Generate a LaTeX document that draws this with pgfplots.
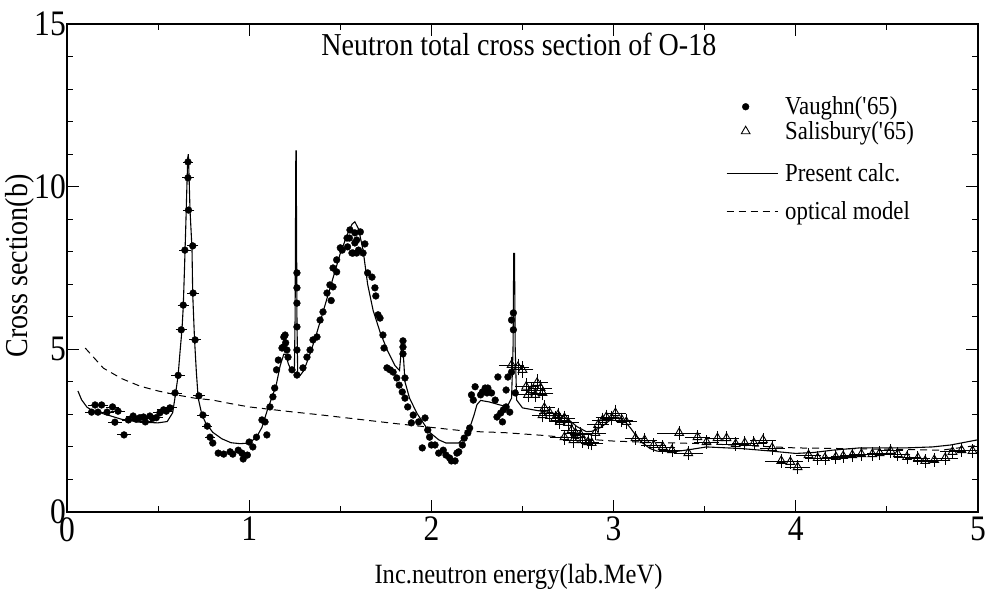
\documentclass[border=0pt]{standalone}
\usepackage{fontspec}
\setmainfont[FakeStretch=0.88]{Liberation Serif}
\usepackage{pgfplots}
\usepackage{pgfplotstable}
\pgfplotsset{compat=1.18}
\pgfplotsset{
  calcleg/.style={legend image code/.code={\draw[##1] (0bp,-9bp) -- (51bp,-9bp);}},
  optleg/.style={legend image code/.code={\draw[##1] (0bp,-7bp) -- (51bp,-7bp);}},
}

% Vaughn('65), low energies, with horizontal error bars
\pgfplotstableread{
x y ex
0.135 3.07 0.02
0.154 3.29 0.02
0.17 3.07 0.02
0.19 3.29 0.02
0.22 3.07 0.02
0.25 3.23 0.02
0.263 2.76 0.02
0.28 3.10 0.02
0.313 2.37 0.02
0.337 2.83 0.02
0.363 2.95 0.02
0.38 2.85 0.02
0.40 2.90 0.02
0.42 2.92 0.02
0.43 2.77 0.02
0.455 2.95 0.02
0.47 2.88 0.02
0.49 2.90 0.02
0.51 3.05 0.02
0.53 3.14 0.02
0.545 3.10 0.02
0.565 3.20 0.02
0.593 3.66 0.02
0.61 4.20 0.02
0.627 5.60 0.015
0.638 6.36 0.015
0.647 8.05 0.015
0.664 10.27 0.015
0.664 10.76 0.01
0.667 9.28 0.015
0.69 8.18 0.015
0.692 6.73 0.015
0.703 5.29 0.015
0.724 3.57 0.015
0.746 2.98 0.015
0.77 2.64 0.01
0.785 2.30 0.01
}\vaughnA

% Vaughn('65), higher energies
\pgfplotstableread{
x y
0.80 2.12
0.83 1.81
0.86 1.78
0.895 1.85
0.91 1.78
0.94 1.90
0.96 1.81
0.967 1.63
0.99 1.75
1.00 2.15
1.02 2.00
1.04 2.30
1.07 2.83
1.087 2.77
1.097 2.37
1.114 3.23
1.13 3.54
1.14 3.81
1.15 4.37
1.16 4.67
1.18 5.04
1.187 5.07
1.19 5.38
1.197 5.44
1.20 5.20
1.207 4.98
1.213 4.76
1.235 4.37
1.262 7.35
1.262 6.89
1.262 6.42
1.262 5.69
1.262 4.98
1.262 4.21
1.295 4.43
1.317 4.76
1.334 4.98
1.35 5.29
1.372 5.38
1.389 5.90
1.405 6.15
1.427 6.73
1.443 6.98
1.45 6.50
1.46 7.50
1.46 6.92
1.48 7.75
1.48 7.38
1.50 8.12
1.51 8.05
1.537 8.42
1.54 8.15
1.553 8.67
1.55 8.42
1.564 7.96
1.57 7.96
1.58 8.58
1.58 8.27
1.59 8.36
1.59 7.96
1.60 8.05
1.61 8.61
1.625 7.96
1.635 8.24
1.65 7.35
1.674 7.22
1.69 6.89
1.695 6.64
1.707 6.06
1.718 5.96
1.734 5.44
1.74 5.04
1.756 4.43
1.773 4.37
1.79 4.30
1.81 4.12
1.823 3.90
1.844 5.26
1.844 5.07
1.844 4.86
1.855 4.12
1.84 3.69
1.855 3.50
1.87 3.23
1.90 2.98
1.89 2.74
1.93 2.77
1.965 2.89
1.98 2.52
1.99 2.30
1.95 1.97
2.00 2.06
2.02 2.06
2.04 1.81
2.065 1.90
2.08 1.75
2.10 1.66
2.11 1.57
2.13 1.57
2.14 1.81
2.15 1.85
2.17 2.06
2.18 2.27
2.20 2.43
2.21 2.58
2.22 3.60
2.23 3.44
2.24 3.85
2.27 3.60
2.28 3.69
2.295 3.81
2.305 3.66
2.31 3.81
2.33 3.66
2.35 3.44
2.365 4.15
2.36 2.92
2.39 2.77
2.38 3.04
2.395 3.14
2.41 3.23
2.41 3.75
2.43 3.07
2.42 4.15
2.44 4.30
2.45 5.60
2.44 5.90
2.45 6.12
2.46 3.66
}\vaughnB

% Salisbury('65)
\pgfplotstableread{
x y ex ey
2.44 4.52 0.05 0.15
2.475 4.46 0.04 0.15
2.50 4.37 0.04 0.15
2.52 3.85 0.04 0.15
2.53 3.60 0.04 0.12
2.55 3.75 0.04 0.12
2.57 3.60 0.04 0.12
2.58 3.97 0.04 0.15
2.60 3.81 0.04 0.15
2.61 3.66 0.04 0.12
2.62 3.20 0.04 0.12
2.61 2.98 0.04 0.12
2.65 3.04 0.04 0.12
2.68 2.89 0.04 0.12
2.695 2.98 0.04 0.12
2.705 2.77 0.04 0.12
2.73 2.89 0.04 0.12
2.75 2.74 0.04 0.12
2.77 2.52 0.04 0.12
2.79 2.43 0.04 0.12
2.73 2.30 0.06 0.12
2.78 2.21 0.04 0.12
2.82 2.37 0.04 0.12
2.83 2.21 0.04 0.12
2.86 2.15 0.04 0.12
2.88 2.12 0.04 0.12
2.90 2.43 0.04 0.12
2.915 2.68 0.04 0.12
2.94 2.83 0.04 0.12
2.96 2.92 0.04 0.12
2.99 2.89 0.04 0.12
3.01 3.04 0.04 0.15
3.045 2.83 0.04 0.12
3.07 2.77 0.04 0.12
3.12 2.27 0.04 0.10
3.17 2.21 0.05 0.10
3.22 2.06 0.05 0.10
3.27 2.00 0.05 0.10
3.32 1.90 0.05 0.10
3.36 2.43 0.10 0.10
3.41 1.81 0.06 0.10
3.46 2.30 0.05 0.10
3.51 2.15 0.05 0.10
3.57 2.27 0.05 0.10
3.62 2.27 0.05 0.10
3.67 2.09 0.05 0.10
3.72 2.12 0.05 0.10
3.77 2.12 0.05 0.10
3.82 2.21 0.05 0.10
3.87 1.97 0.05 0.10
3.92 1.57 0.07 0.10
3.97 1.54 0.05 0.10
4.01 1.38 0.05 0.10
4.07 1.75 0.05 0.10
4.12 1.66 0.05 0.10
4.16 1.66 0.05 0.10
4.22 1.69 0.05 0.10
4.26 1.72 0.05 0.10
4.31 1.75 0.05 0.10
4.36 1.78 0.05 0.10
4.42 1.78 0.05 0.10
4.46 1.81 0.05 0.10
4.52 1.88 0.05 0.10
4.56 1.78 0.05 0.10
4.61 1.69 0.05 0.10
4.67 1.66 0.05 0.10
4.71 1.57 0.05 0.10
4.76 1.60 0.05 0.10
4.82 1.66 0.05 0.10
4.86 1.85 0.05 0.10
4.91 1.90 0.05 0.10
4.97 1.88 0.05 0.10
}\salisbury

% present calculation
\pgfplotstableread{
x y
0.06 3.72
0.08 3.45
0.11 3.22
0.14 3.12
0.20 3.02
0.30 2.85
0.40 2.76
0.50 2.74
0.55 2.78
0.58 3.05
0.595 3.60
0.61 4.20
0.62 4.90
0.631 5.60
0.638 6.30
0.645 7.50
0.652 8.80
0.658 10.00
0.663 10.90
0.666 11.00
0.670 10.30
0.675 9.30
0.686 8.10
0.690 6.70
0.700 5.30
0.710 4.30
0.720 3.50
0.740 3.00
0.760 2.75
0.80 2.45
0.85 2.25
0.90 2.13
0.95 2.10
1.00 2.12
1.04 2.30
1.07 2.60
1.10 3.14
1.13 3.60
1.15 3.95
1.17 4.50
1.19 4.85
1.20 4.85
1.215 4.55
1.235 4.30
1.248 4.35
1.252 6.00
1.256 11.10
1.258 11.10
1.262 6.00
1.266 4.30
1.28 4.20
1.30 4.35
1.33 4.80
1.36 5.30
1.40 6.05
1.45 7.00
1.50 7.95
1.54 8.55
1.565 8.85
1.58 8.92
1.60 8.70
1.625 8.05
1.65 7.00
1.68 6.20
1.72 5.50
1.76 4.95
1.80 4.50
1.825 4.35
1.838 5.20
1.842 5.20
1.855 4.00
1.88 3.50
1.92 3.04
1.96 2.70
1.99 2.45
2.04 2.22
2.08 2.12
2.15 2.12
2.19 2.35
2.21 2.58
2.235 3.00
2.25 3.30
2.27 3.43
2.32 3.38
2.37 3.30
2.415 3.23
2.44 3.50
2.448 5.00
2.452 7.95
2.456 7.95
2.46 5.00
2.468 3.44
2.50 3.20
2.58 3.12
2.65 3.06
2.70 3.00
2.75 2.85
2.80 2.62
2.85 2.47
2.88 2.48
2.93 2.60
2.98 2.82
3.02 2.92
3.06 2.80
3.09 2.60
3.13 2.30
3.16 2.12
3.20 1.95
3.24 1.87
3.33 1.85
3.42 1.92
3.51 2.00
3.70 1.95
3.85 1.88
4.00 1.80
4.10 1.83
4.20 1.90
4.35 1.97
4.60 1.97
4.75 2.00
4.85 2.06
5.00 2.22
}\calc

% optical model
\pgfplotstableread{
x y
0.1 5.04
0.2 4.42
0.3 4.10
0.4 3.87
0.5 3.72
0.6 3.60
0.7 3.50
0.8 3.44
0.9 3.33
1.0 3.23
1.2 3.10
1.4 2.98
1.6 2.85
1.8 2.72
2.0 2.60
2.2 2.48
2.4 2.44
2.6 2.36
2.8 2.26
3.0 2.18
3.2 2.14
3.5 2.10
4.0 1.97
4.5 1.93
4.8 1.90
5.0 2.05
}\optical

\begin{document}
\begin{tikzpicture}
\begin{axis}[
scale only axis,width=911bp,height=488bp,
xmin=0,xmax=5,ymin=0,ymax=15,
xtick={0,1,2,3,4,5},ytick={0,5,10,15},
minor x tick num=1,minor y tick num=4,
tick align=inside,major tick length=12bp,minor tick length=6bp,
every tick/.style={black,line width=1bp},
axis line style={line width=1.5bp},
/pgf/number format/assume math mode=true,
ticklabel style={font=\fontsize{36}{36}\selectfont},
xticklabel style={inner sep=1bp,yshift=-4bp},
yticklabel style={inner sep=1bp},
xlabel={Inc.neutron energy(lab.MeV)},
ylabel={Cross section(b)},
xlabel style={font=\fontsize{28}{28}\selectfont,inner sep=1bp,at={(axis description cs:0.4956,-0.133)},anchor=center},
ylabel style={font=\fontsize{32}{32}\selectfont,inner sep=1bp,at={(axis description cs:-0.0516,0.504)},anchor=center,rotate=0},
legend style={draw=none,fill=none,at={(0.72,0.86)},anchor=north west,
  font=\fontsize{26}{28}\selectfont,row sep=0bp,nodes={inner ysep=2.5bp,inner xsep=7bp}},
legend cell align=left,
legend image code/.code={\draw[mark repeat=2,mark phase=2,#1] plot coordinates {(0bp,0bp) (19bp,0bp) (51bp,0bp)};},
]
\addplot[only marks,mark=*,mark size=3.4bp,black,
  error bars/.cd,x dir=both,x explicit,
  error mark options={black,mark size=3bp,line width=0.8bp},
  error bar style={line width=0.8bp}]
  table[x=x,y=y,x error=ex] {\vaughnA};
\addlegendentry{Vaughn(\textquotesingle65)}
\addplot[only marks,mark=triangle,mark size=5bp,black,mark options={line width=0.9bp,fill=white},
  error bars/.cd,x dir=both,x explicit,y dir=both,y explicit,
  error mark options={black,mark size=3.5bp,line width=0.8bp},
  error bar style={line width=0.8bp}]
  table[x=x,y=y,x error=ex,y error=ey] {\salisbury};
\addlegendentry{Salisbury(\textquotesingle65)}
\addplot[black,line width=1.1bp,calcleg] table[x=x,y=y] {\calc};
\addlegendentry{\rule{0pt}{36bp}Present calc.}
\addplot[black,line width=1bp,dash pattern=on 7bp off 5bp,optleg] table[x=x,y=y] {\optical};
\addlegendentry{\rule{0pt}{31bp}optical model}
\addplot[only marks,mark=*,mark size=3.4bp,black,forget plot] table[x=x,y=y] {\vaughnB};
\node[font=\fontsize{32}{32}\selectfont] at (axis cs:2.48,14.36) {Neutron total cross section of O-18};
\end{axis}
\pgfresetboundingbox
\useasboundingbox (-67bp,-81bp) rectangle (923bp,512bp);
\end{tikzpicture}
\end{document}
